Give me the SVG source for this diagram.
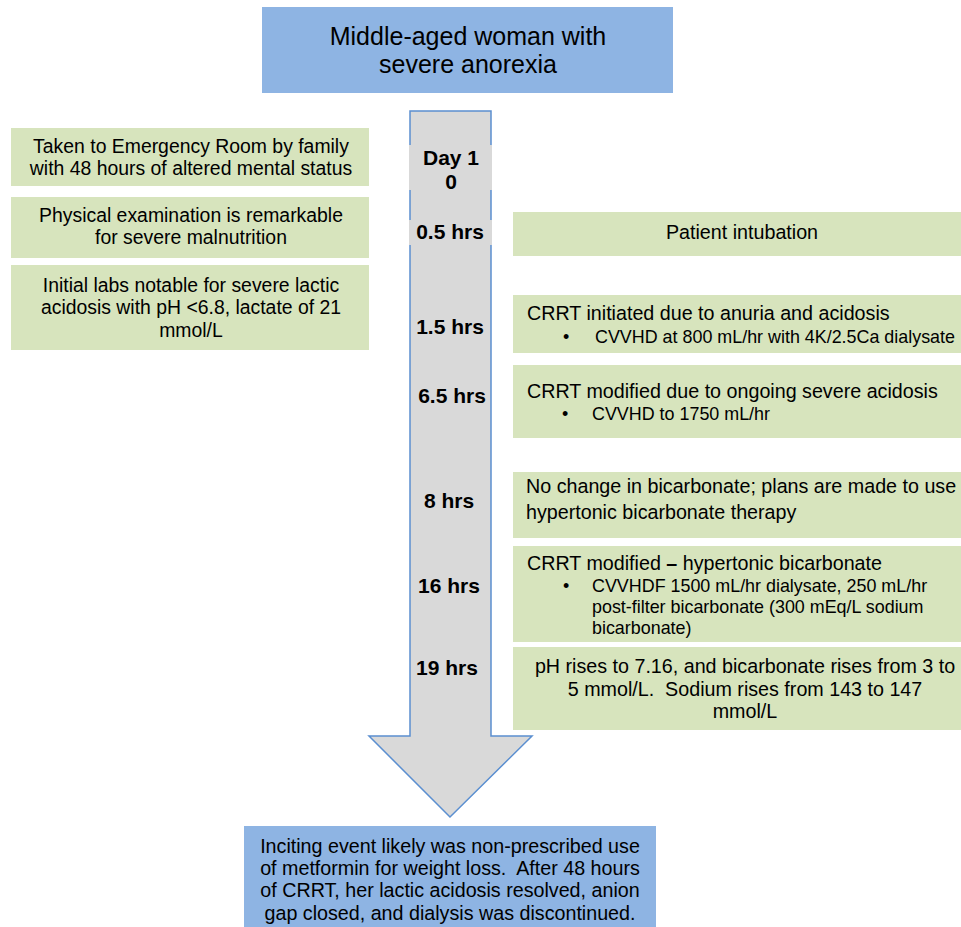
<svg xmlns="http://www.w3.org/2000/svg" width="961" height="927" viewBox="0 0 961 927">
<style>
.blue{fill:#8EB4E3}
.green{fill:#D7E4BD}
.t{font-family:"Liberation Sans",Arial,sans-serif;font-size:19.7px;fill:#000;white-space:pre}
.c{text-anchor:middle}
.b{font-weight:bold;font-size:21px}
.s{font-size:17.9px}
.l{font-size:19.4px}
.big{font-size:25px}
</style>
<defs>
<clipPath id="clip16"><rect x="513" y="546" width="448" height="96"/></clipPath>
</defs>
<rect width="961" height="927" fill="#fff"/>
<g id="connectors">
<path d="M410,111 H491 V736 H532 L450,817 L369,736 H410 Z" fill="#D9D9D9" stroke="#5B8FD0" stroke-width="1.5"/>
</g>
<g id="top">
<rect class="blue" x="262" y="7" width="411" height="86"/>
<text class="t big c" x="468" y="45">Middle-aged woman with</text>
<text class="t big c" x="468" y="73">severe anorexia</text>
</g>
<g id="times">
<rect x="409" y="145" width="83" height="45" fill="#D9D9D9"/>
<text class="t b c" x="451" y="165">Day 1</text>
<text class="t b c" x="451" y="189">0</text>
<rect x="409" y="220" width="83" height="25" fill="#D9D9D9"/>
<text class="t b c" x="450" y="239">0.5 hrs</text>
<text class="t b c" x="450" y="334">1.5 hrs</text>
<text class="t b c" x="452" y="403">6.5 hrs</text>
<text class="t b c" x="449" y="508">8 hrs</text>
<text class="t b c" x="449" y="593">16 hrs</text>
<text class="t b c" x="447" y="675">19 hrs</text>
</g>
<g id="left1">
<rect class="green" x="11" y="128" width="358" height="58"/>
<text class="t l c" x="191" y="153">Taken to Emergency Room by family</text>
<text class="t l c" x="191" y="175">with 48 hours of altered mental status</text>
</g>
<g id="left2">
<rect class="green" x="11" y="197" width="358" height="61"/>
<text class="t l c" x="191" y="222">Physical examination is remarkable</text>
<text class="t l c" x="191" y="244">for severe malnutrition</text>
</g>
<g id="left3">
<rect class="green" x="11" y="265" width="358" height="85"/>
<text class="t l c" x="191" y="292">Initial labs notable for severe lactic</text>
<text class="t l c" x="191" y="314">acidosis with pH &lt;6.8, lactate of 21</text>
<text class="t l c" x="191" y="337">mmol/L</text>
</g>
<g id="r1">
<rect class="green" x="513" y="212" width="448" height="44"/>
<text class="t c" x="742" y="239">Patient intubation</text>
</g>
<g id="r2">
<rect class="green" x="513" y="295" width="448" height="58"/>
<text class="t" x="527" y="320">CRRT initiated due to anuria and acidosis</text>
<text class="t s" x="563" y="343">•</text>
<text class="t s" x="595" y="343">CVVHD at 800 mL/hr with 4K/2.5Ca dialysate</text>
</g>
<g id="r3">
<rect class="green" x="513" y="365" width="448" height="73"/>
<text class="t" x="527" y="398">CRRT modified due to ongoing severe acidosis</text>
<text class="t s" x="562" y="420">•</text>
<text class="t s" x="592" y="420">CVVHD to 1750 mL/hr</text>
</g>
<g id="r4">
<rect class="green" x="513" y="472" width="448" height="66"/>
<text class="t" x="526" y="493">No change in bicarbonate; plans are made to use</text>
<text class="t" x="526" y="519">hypertonic bicarbonate therapy</text>
</g>
<g id="r5">
<rect class="green" x="513" y="546" width="448" height="96"/>
<text class="t" x="527" y="570">CRRT modified <tspan font-weight="bold">–</tspan> hypertonic bicarbonate</text>
<text class="t s" x="563" y="592">•</text>
<g clip-path="url(#clip16)">
<text class="t s" x="592" y="592">CVVHDF 1500 mL/hr dialysate, 250 mL/hr</text>
<text class="t s" x="592" y="613">post-filter bicarbonate (300 mEq/L sodium</text>
<text class="t s" x="592" y="634">bicarbonate)</text>
</g>
</g>
<g id="r6">
<rect class="green" x="513" y="647" width="448" height="83"/>
<text class="t c" x="745" y="673">pH rises to 7.16, and bicarbonate rises from 3 to</text>
<text class="t c" x="745" y="696">5 mmol/L.  Sodium rises from 143 to 147</text>
<text class="t c" x="745" y="718">mmol/L</text>
</g>
<g id="bottom">
<rect class="blue" x="244" y="826" width="412" height="101"/>
<text class="t c" x="450" y="853">Inciting event likely was non-prescribed use</text>
<text class="t c" x="450" y="875">of metformin for weight loss.  After 48 hours</text>
<text class="t c" x="450" y="897">of CRRT, her lactic acidosis resolved, anion</text>
<text class="t c" x="450" y="920">gap closed, and dialysis was discontinued.</text>
</g>
</svg>
